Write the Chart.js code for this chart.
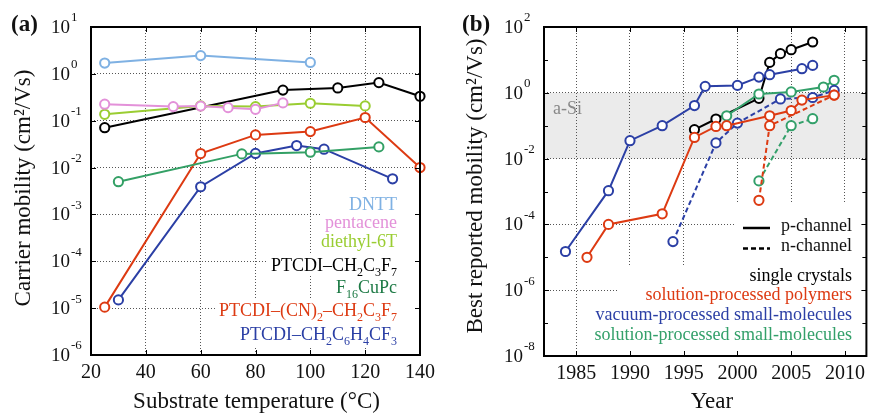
<!DOCTYPE html>
<html><head><meta charset="utf-8">
<script src="https://cdn.jsdelivr.net/npm/chart.js@4"></script>
<style>
body{margin:0;background:#fff;width:873px;height:413px;overflow:hidden;position:relative}
canvas{position:absolute;top:0}
</style></head>
<body>
<canvas id="ca" width="436" height="413" style="left:0"></canvas>
<canvas id="cb" width="437" height="413" style="left:436px"></canvas>
<script>
// ---------- Panel (a) data ----------
const tempTicks = [20, 40, 60, 80, 100, 120, 140];
const decadesA = [-6, -5, -4, -3, -2, -1, 0, 1];
const tDNTT = [25, 60, 100];
const muDNTT = [1.7, 2.45, 1.75];
const tPent = [25, 50, 60, 70, 80, 90];
const muPent = [0.225, 0.2, 0.205, 0.19, 0.175, 0.24];
const tDE6T = [25, 60, 80, 100, 120];
const muDE6T = [0.137, 0.207, 0.2, 0.236, 0.207];
const tPTCDI1 = [25, 90, 110, 125, 140];
const muPTCDI1 = [0.071, 0.45, 0.5, 0.65, 0.333];
const tF16 = [30, 75, 100, 125];
const muF16 = [0.005, 0.0196, 0.0213, 0.0276];
const tPTCDI2 = [25, 60, 80, 100, 120, 140];
const muPTCDI2 = [1.05e-5, 0.0199, 0.0498, 0.0586, 0.117, 0.01];
const tPTCDI3 = [30, 60, 80, 95, 105, 130];
const muPTCDI3 = [1.5e-5, 0.0039, 0.02, 0.0295, 0.0247, 0.00575];
const legendA = ['DNTT', 'pentacene', 'diethyl-6T', 'PTCDI–CH_2C_3F_7', 'F_16CuPc', 'PTCDI–(CN)_2–CH_2C_3F_7', 'PTCDI–CH_2C_6H_4CF_3'];

// ---------- Panel (b) data ----------
const yearTicks = [1985, 1990, 1995, 2000, 2005, 2010];
const decadesB = [-8, -6, -4, -2, 0, 2];
const minorB = [-7, -5, -3, -1, 1];
const yrCrystP = [1996, 1998, 2002, 2003, 2004, 2005, 2007];
const muCrystP = [0.076, 0.16, 0.68, 8.4, 15.5, 20.4, 35];
const yrPolyP = [1986, 1988, 1993, 1996, 1998, 1999, 2003, 2005, 2006, 2009];
const muPolyP = [1e-5, 1e-4, 2.1e-4, 0.044, 0.095, 0.1, 0.2, 0.29, 0.6, 0.85];
const yrPolyN = [2002, 2003, 2009];
const muPolyN = [5.4e-4, 0.1, 0.85];
const yrVacP = [1984, 1988, 1990, 1993, 1996, 1997, 2000, 2002, 2003, 2006, 2007];
const muVacP = [1.5e-5, 1.06e-3, 0.035, 0.1, 0.41, 1.57, 1.68, 3.0, 3.55, 5.4, 6.8];
const yrVacN = [1994, 1998, 2000, 2004, 2007, 2009];
const muVacN = [3e-5, 0.03, 0.12, 0.65, 0.72, 1.18];
const yrSolP = [1999, 2002, 2005, 2008, 2009];
const muSolP = [0.2, 0.92, 1.06, 1.5, 2.4];
const yrSolN = [2002, 2005, 2007];
const muSolN = [2.1e-3, 0.1, 0.163];
const legendB = ['single crystals', 'solution-processed polymers', 'vacuum-processed small-molecules', 'solution-processed small-molecules'];
const lineLegendB = ['p-channel', 'n-channel'];

// ---------- styling ----------
const SERIF = "'Liberation Serif', 'Times New Roman', serif";
const C = {
  dntt: '#7fb1e3', pent: '#e391d9', de6t: '#9acd32', black: '#000000',
  f16: '#33a065', f16txt: '#1d7a45', red: '#dd3a12', blue: '#2b3fa5', green: '#33a06a'
};

function ds(xs, ys, color, dashed) {
  return {
    data: xs.map((x, i) => ({x: x, y: ys[i]})),
    borderColor: color, backgroundColor: color,
    pointBorderColor: color, pointBackgroundColor: '#ffffff',
    pointRadius: 4.6, pointBorderWidth: 2, borderWidth: 2,
    borderDash: dashed ? [5, 3] : [], showLine: true, clip: false, tension: 0
  };
}

function drawRich(ctx, str, xRight, baseline, size, color) {
  // "_digits" => subscript
  const segs = [];
  const re = /_(\d+)/g;
  let last = 0, m;
  while ((m = re.exec(str)) !== null) {
    if (m.index > last) segs.push({t: str.slice(last, m.index), sub: false});
    segs.push({t: m[1], sub: true});
    last = re.lastIndex;
  }
  if (last < str.length) segs.push({t: str.slice(last), sub: false});
  const subSize = Math.round(size * 0.68);
  let total = 0;
  segs.forEach(s => { ctx.font = (s.sub ? subSize : size) + 'px ' + SERIF; s.w = ctx.measureText(s.t).width; total += s.w; });
  let x = xRight - total;
  const left = x;
  ctx.fillStyle = color; ctx.textAlign = 'left'; ctx.textBaseline = 'alphabetic';
  segs.forEach(s => {
    ctx.font = (s.sub ? subSize : size) + 'px ' + SERIF;
    ctx.fillText(s.t, x, baseline + (s.sub ? size * 0.28 : 0));
    x += s.w;
  });
  return left;
}

function measureRich(ctx, str, size) {
  const plain = str.replace(/_(\d+)/g, '');
  const subs = (str.match(/_(\d+)/g) || []).map(s => s.slice(1)).join('');
  ctx.font = size + 'px ' + SERIF; let w = ctx.measureText(plain).width;
  ctx.font = Math.round(size * 0.68) + 'px ' + SERIF; w += ctx.measureText(subs).width;
  return w;
}

function drawPow(ctx, xRight, y, exp) {
  ctx.fillStyle = '#111';
  ctx.font = '19px ' + SERIF; ctx.textAlign = 'right'; ctx.textBaseline = 'middle';
  ctx.fillText('10', xRight, y + 1);
  ctx.font = '13px ' + SERIF; ctx.textAlign = 'left';
  ctx.fillText(String(exp), xRight + 1, y - 9);
}

function frameAndTicks(ctx, a, xs, ys, minor, sx, sy) {
  ctx.save();
  ctx.strokeStyle = '#000'; ctx.lineWidth = 1;
  ctx.setLineDash([]);
  ctx.beginPath();
  xs.forEach(v => { const p = Math.round(sx.getPixelForValue(v)) + 0.5;
    ctx.moveTo(p, a.bottom); ctx.lineTo(p, a.bottom - 5);
    ctx.moveTo(p, a.top); ctx.lineTo(p, a.top + 5); });
  ys.forEach(v => { const p = Math.round(sy.getPixelForValue(Math.pow(10, v))) + 0.5;
    ctx.moveTo(a.left, p); ctx.lineTo(a.left + 5, p);
    ctx.moveTo(a.right, p); ctx.lineTo(a.right - 5, p); });
  (minor || []).forEach(v => { const p = Math.round(sy.getPixelForValue(Math.pow(10, v))) + 0.5;
    ctx.moveTo(a.left, p); ctx.lineTo(a.left + 4, p);
    ctx.moveTo(a.right, p); ctx.lineTo(a.right - 4, p); });
  ctx.stroke();
  ctx.lineWidth = 2;
  ctx.strokeRect(a.left, a.top, a.right - a.left, a.bottom - a.top);
  ctx.restore();
}

const gridOpts = {color: '#555', lineWidth: 1, drawTicks: false};
const borderOpts = {display: false, dash: [1, 2]};

// ---------- Panel (a) chart ----------
const rowsA = [210, 228, 247, 271, 293, 316, 340];
const colorsA = [C.dntt, C.pent, C.de6t, C.black, C.f16txt, C.red, C.blue];

const pluginA = {
  id: 'pa',
  beforeDraw(chart) {
    const ctx = chart.ctx; ctx.save(); ctx.fillStyle = '#fff';
    ctx.fillRect(0, 0, chart.width, chart.height); ctx.restore();
  },
  beforeDatasetsDraw(chart) {
    const ctx = chart.ctx, a = chart.chartArea; ctx.save(); ctx.fillStyle = '#fff';
    legendA.forEach((s, i) => {
      const w = measureRich(ctx, s, 18);
      const top = rowsA[i] - 18;
      const bot = i < rowsA.length - 1 ? rowsA[i + 1] - 18 : rowsA[i] + 8;
      ctx.fillRect(397 - w - 4, top, a.right - (397 - w - 4) - 1, bot - top);
    });
    ctx.restore();
  },
  afterDraw(chart) {
    const ctx = chart.ctx, a = chart.chartArea, sx = chart.scales.x, sy = chart.scales.y;
    frameAndTicks(ctx, a, tempTicks, decadesA, null, sx, sy);
    ctx.save();
    decadesA.forEach(d => drawPow(ctx, a.left - 21, sy.getPixelForValue(Math.pow(10, d)), d));
    ctx.fillStyle = '#111'; ctx.font = '20px ' + SERIF; ctx.textAlign = 'center'; ctx.textBaseline = 'middle';
    tempTicks.forEach(v => ctx.fillText(String(v), sx.getPixelForValue(v), 373));
    ctx.font = '23px ' + SERIF;
    ctx.fillText('Substrate temperature (°C)', (a.left + a.right) / 2 + 1, 402);
    ctx.save(); ctx.translate(24, 188); ctx.rotate(-Math.PI / 2);
    ctx.fillText('Carrier mobility (cm²/Vs)', 0, 0); ctx.restore();
    ctx.font = 'bold 23px ' + SERIF; ctx.textAlign = 'left';
    ctx.fillText('(a)', 11, 25);
    legendA.forEach((s, i) => drawRich(ctx, s, 397, rowsA[i], 18, colorsA[i]));
    ctx.restore();
  }
};

new Chart(document.getElementById('ca'), {
  type: 'scatter',
  data: {datasets: [
    ds(tDNTT, muDNTT, C.dntt), ds(tPent, muPent, C.pent), ds(tDE6T, muDE6T, C.de6t),
    ds(tPTCDI1, muPTCDI1, C.black), ds(tF16, muF16, C.f16),
    ds(tPTCDI2, muPTCDI2, C.red), ds(tPTCDI3, muPTCDI3, C.blue)
  ]},
  options: {
    responsive: false, animation: false, devicePixelRatio: 1,
    layout: {padding: {top: 27, right: 16, left: 0, bottom: 0}},
    plugins: {legend: {display: false}, tooltip: {enabled: false}},
    scales: {
      x: {type: 'linear', min: 20, max: 140,
        afterBuildTicks: s => { s.ticks = tempTicks.map(v => ({value: v})); },
        ticks: {display: false}, grid: gridOpts, border: borderOpts,
        afterFit: s => { s.height = 58; }},
      y: {type: 'logarithmic', min: 1e-6, max: 10,
        afterBuildTicks: s => { s.ticks = decadesA.map(d => ({value: Math.pow(10, d)})); },
        ticks: {display: false}, grid: gridOpts, border: borderOpts,
        afterFit: s => { s.width = 91; }}
    }
  },
  plugins: [pluginA]
});

// ---------- Panel (b) chart ----------
const rowsB = [281, 300, 320, 340];
const colorsB = [C.black, C.red, C.blue, C.green];

const pluginB = {
  id: 'pb',
  beforeDraw(chart) {
    const ctx = chart.ctx, a = chart.chartArea, sy = chart.scales.y;
    ctx.save(); ctx.fillStyle = '#fff'; ctx.fillRect(0, 0, chart.width, chart.height);
    const y1 = sy.getPixelForValue(1), y2 = sy.getPixelForValue(1e-2);
    ctx.fillStyle = '#ebebeb'; ctx.fillRect(a.left, y1, a.right - a.left, y2 - y1);
    ctx.fillStyle = '#888'; ctx.font = '18px ' + SERIF; ctx.textAlign = 'left'; ctx.textBaseline = 'middle';
    ctx.fillText('a-Si', a.left + 9, (y1 + y2) / 2 - 16);
    ctx.restore();
  },
  beforeDatasetsDraw(chart) {
    const ctx = chart.ctx, a = chart.chartArea; ctx.save(); ctx.fillStyle = '#fff';
    ctx.fillRect(299, 203, a.right - 1 - 299, 62);
    ctx.fillRect(182, 265, a.right - 1 - 182, a.bottom - 1 - 265);
    ctx.restore();
  },
  afterDraw(chart) {
    const ctx = chart.ctx, a = chart.chartArea, sx = chart.scales.x, sy = chart.scales.y;
    frameAndTicks(ctx, a, yearTicks, decadesB, minorB, sx, sy);
    ctx.save();
    decadesB.forEach(d => drawPow(ctx, a.left - 21, sy.getPixelForValue(Math.pow(10, d)), d));
    ctx.fillStyle = '#111'; ctx.font = '20px ' + SERIF; ctx.textAlign = 'center'; ctx.textBaseline = 'middle';
    yearTicks.forEach(v => ctx.fillText(String(v), sx.getPixelForValue(v), 374));
    ctx.font = '23px ' + SERIF;
    ctx.fillText('Year', 276, 402);
    ctx.save(); ctx.translate(40, 186); ctx.rotate(-Math.PI / 2);
    ctx.fillText('Best reported mobility (cm²/Vs)', 0, 0); ctx.restore();
    ctx.font = 'bold 23px ' + SERIF; ctx.textAlign = 'left';
    ctx.fillText('(b)', 26, 25);
    // line-style legend
    ctx.strokeStyle = '#000'; ctx.lineWidth = 2.5;
    ctx.beginPath(); ctx.moveTo(307, 228); ctx.lineTo(334, 228); ctx.stroke();
    ctx.setLineDash([5, 3]);
    ctx.beginPath(); ctx.moveTo(307, 248.5); ctx.lineTo(334, 248.5); ctx.stroke();
    ctx.setLineDash([]);
    drawRich(ctx, lineLegendB[0], 416, 231, 18, '#111');
    drawRich(ctx, lineLegendB[1], 416, 251, 18, '#111');
    legendB.forEach((s, i) => drawRich(ctx, s, 416, rowsB[i], 18, colorsB[i]));
    ctx.restore();
  }
};

new Chart(document.getElementById('cb'), {
  type: 'scatter',
  data: {datasets: [
    ds(yrPolyP, muPolyP, C.red), ds(yrPolyN, muPolyN, C.red, true),
    ds(yrVacN, muVacN, C.blue, true), ds(yrSolN, muSolN, C.green, true),
    ds(yrSolP, muSolP, C.green), ds(yrVacP, muVacP, C.blue),
    ds(yrCrystP, muCrystP, C.black)
  ]},
  options: {
    responsive: false, animation: false, devicePixelRatio: 1,
    layout: {padding: {top: 27, right: 1, left: 0, bottom: 0}},
    plugins: {legend: {display: false}, tooltip: {enabled: false}},
    scales: {
      x: {type: 'linear', min: 1982, max: 2012,
        afterBuildTicks: s => { s.ticks = yearTicks.map(v => ({value: v})); },
        ticks: {display: false}, grid: gridOpts, border: borderOpts,
        afterFit: s => { s.height = 57; }},
      y: {type: 'logarithmic', min: 1e-8, max: 100,
        afterBuildTicks: s => { s.ticks = decadesB.map(d => ({value: Math.pow(10, d)})); },
        ticks: {display: false}, grid: gridOpts, border: borderOpts,
        afterFit: s => { s.width = 108; }}
    }
  },
  plugins: [pluginB]
});
</script>
</body></html>
